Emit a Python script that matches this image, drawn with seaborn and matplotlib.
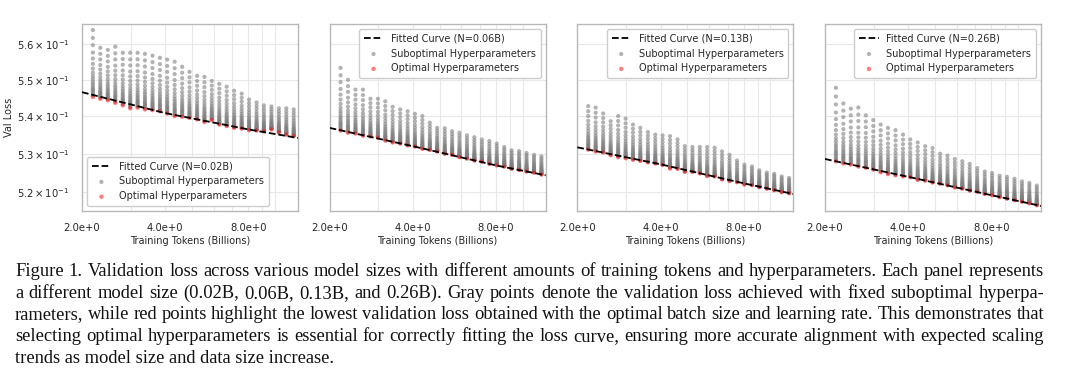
import matplotlib
matplotlib.use("Agg")
import matplotlib.pyplot as plt
import pandas as pd
import seaborn as sns
from matplotlib.ticker import FixedLocator, NullLocator, NullFormatter

# training tokens (billions) of each column of runs
tokens = [2.19, 2.33, 2.48, 2.64, 2.81, 2.99, 3.18, 3.38, 3.60, 3.83,
          4.07, 4.33, 4.61, 4.90, 5.22, 5.55, 5.90, 6.28, 6.68, 7.11,
          7.57, 8.05, 8.57, 9.11, 9.70, 10.32, 10.98, 11.68]

model_sizes = ["0.02B", "0.06B", "0.13B", "0.26B"]

# fitted curves, read at a few token counts
fit_tokens = [2.0, 4.0, 8.0, 12.1]
fit_002 = [0.5466, 0.5409, 0.5365, 0.5342]
fit_006 = [0.5369, 0.5320, 0.5269, 0.5243]
fit_013 = [0.5317, 0.5272, 0.5222, 0.5194]
fit_026 = [0.5286, 0.5239, 0.5191, 0.5163]

# lowest loss per column (optimal batch size / lr)
opt_002 = [0.5453, 0.5448, 0.5444, 0.5437, 0.5430, 0.5422, 0.5424, 0.5419, 0.5417, 0.5414,
           0.5408, 0.5401, 0.5399, 0.5396, 0.5392, 0.5385, 0.5390, 0.5378, 0.5374, 0.5369,
           0.5367, 0.5363, 0.5362, 0.5360, 0.5365, 0.5357, 0.5351, 0.5347]
opt_006 = [0.5362, 0.5356, 0.5354, 0.5348, 0.5346, 0.5343, 0.5335, 0.5330, 0.5327, 0.5322,
           0.5319, 0.5313, 0.5310, 0.5306, 0.5300, 0.5297, 0.5291, 0.5287, 0.5282, 0.5279,
           0.5273, 0.5269, 0.5266, 0.5260, 0.5257, 0.5253, 0.5250, 0.5245]
opt_013 = [0.5311, 0.5306, 0.5303, 0.5296, 0.5291, 0.5288, 0.5284, 0.5281, 0.5277, 0.5274,
           0.5270, 0.5261, 0.5260, 0.5252, 0.5252, 0.5248, 0.5241, 0.5240, 0.5232, 0.5228,
           0.5225, 0.5219, 0.5217, 0.5212, 0.5208, 0.5204, 0.5199, 0.5196]
opt_026 = [0.5280, 0.5274, 0.5271, 0.5266, 0.5263, 0.5258, 0.5251, 0.5246, 0.5243, 0.5240,
           0.5238, 0.5231, 0.5229, 0.5224, 0.5221, 0.5217, 0.5211, 0.5208, 0.5203, 0.5200,
           0.5194, 0.5191, 0.5186, 0.5182, 0.5178, 0.5174, 0.5170, 0.5165]

# highest loss per column (worst suboptimal setting)
top_002 = [0.5639, 0.5589, 0.5583, 0.5592, 0.5575, 0.5575, 0.5575, 0.5572, 0.5567, 0.5561,
           0.5556, 0.5550, 0.5536, 0.5522, 0.5511, 0.5508, 0.5497, 0.5489, 0.5481, 0.5470,
           0.5462, 0.5446, 0.5438, 0.5430, 0.5427, 0.5422, 0.5422, 0.5419]
top_006 = [0.5533, 0.5500, 0.5473, 0.5473, 0.5448, 0.5448, 0.5441, 0.5426, 0.5419, 0.5414,
           0.5407, 0.5401, 0.5383, 0.5369, 0.5368, 0.5360, 0.5356, 0.5349, 0.5344, 0.5338,
           0.5334, 0.5327, 0.5318, 0.5309, 0.5307, 0.5302, 0.5297, 0.5293]
top_013 = [0.5428, 0.5424, 0.5408, 0.5387, 0.5401, 0.5394, 0.5378, 0.5369, 0.5358, 0.5351,
           0.5349, 0.5347, 0.5338, 0.5320, 0.5318, 0.5318, 0.5318, 0.5316, 0.5306, 0.5297,
           0.5282, 0.5271, 0.5266, 0.5256, 0.5250, 0.5247, 0.5240, 0.5236]
top_026 = [0.5478, 0.5435, 0.5421, 0.5424, 0.5403, 0.5390, 0.5378, 0.5369, 0.5363, 0.5351,
           0.5338, 0.5330, 0.5320, 0.5315, 0.5300, 0.5295, 0.5286, 0.5280, 0.5273, 0.5262,
           0.5253, 0.5249, 0.5242, 0.5239, 0.5234, 0.5227, 0.5223, 0.5216]

# where the suboptimal settings sit between the optimum and the worst run
hparam_spread = [0.02, 0.04, 0.06, 0.08, 0.10, 0.12, 0.14, 0.17, 0.20, 0.23,
                 0.27, 0.31, 0.36, 0.42, 0.49, 0.57, 0.66, 0.77, 0.88, 1.0]

xtick_values = [2.0, 4.0, 8.0]
xtick_labels = ["2.0e+0", "4.0e+0", "8.0e+0"]
xminor_values = [3, 5, 6, 7, 9, 10]
ytick_values = [0.52, 0.53, 0.54, 0.55, 0.56]
ytick_labels = [r"$5.2\times10^{-1}$", r"$5.3\times10^{-1}$", r"$5.4\times10^{-1}$",
                r"$5.5\times10^{-1}$", r"$5.6\times10^{-1}$"]

caption_lines = [
    "Figure 1. Validation loss across various model sizes with different amounts of training tokens and hyperparameters. Each panel represents",
    "a different model size (0.02B, 0.06B, 0.13B, and 0.26B). Gray points denote the validation loss achieved with fixed suboptimal hyperpa-",
    "rameters, while red points highlight the lowest validation loss obtained with the optimal batch size and learning rate. This demonstrates that",
    "selecting optimal hyperparameters is essential for correctly fitting the loss curve, ensuring more accurate alignment with expected scaling",
    "trends as model size and data size increase.",
]

sns.set_theme(style="whitegrid", rc={
    "axes.edgecolor": "0.72",
    "grid.color": "0.91",
    "grid.linewidth": 0.8,
    "axes.linewidth": 1.0,
})
plt.rcParams["font.family"] = ["DejaVu Sans"]
plt.rcParams["mathtext.fontset"] = "dejavusans"

fig, axes = plt.subplots(1, 4, figsize=(10.8, 3.78), dpi=100, sharey=True, sharex=True)
fig.subplots_adjust(left=0.0759, right=0.9639, top=0.9365, bottom=0.4418, wspace=0.1467)

panels = [
    ("0.02B", fit_002, opt_002, top_002, "lower left"),
    ("0.06B", fit_006, opt_006, top_006, "upper right"),
    ("0.13B", fit_013, opt_013, top_013, "upper right"),
    ("0.26B", fit_026, opt_026, top_026, "upper right"),
]

for ax, (size, fit, opt, top, legend_loc) in zip(axes, panels):
    rows = []
    for t, lo, hi in zip(tokens, opt, top):
        for f in hparam_spread:
            rows.append({"tokens": t, "loss": lo + f * (hi - lo)})
    sub = pd.DataFrame(rows)
    best = pd.DataFrame({"tokens": tokens, "loss": opt})
    curve = pd.DataFrame({"tokens": fit_tokens, "loss": fit})

    sns.scatterplot(data=sub, x="tokens", y="loss", color="gray", alpha=0.6, s=9,
                    edgecolor="none", label="Suboptimal Hyperparameters", ax=ax, zorder=2)
    sns.scatterplot(data=best, x="tokens", y="loss", color="red", alpha=0.5, s=10,
                    edgecolor="none", label="Optimal Hyperparameters", ax=ax, zorder=3)
    sns.lineplot(data=curve, x="tokens", y="loss", color="black", linestyle="--",
                 linewidth=1.3, label=f"Fitted Curve (N={size})", ax=ax, zorder=4)

    ax.set_xscale("log")
    ax.set_yscale("log")
    handles, labels = ax.get_legend_handles_labels()
    order = [labels.index(f"Fitted Curve (N={size})"),
             labels.index("Suboptimal Hyperparameters"),
             labels.index("Optimal Hyperparameters")]
    ax.legend([handles[i] for i in order], [labels[i] for i in order],
              loc=legend_loc, fontsize=7, handlelength=2.0, borderpad=0.5,
              labelspacing=0.5, framealpha=1.0)
    ax.set_xlabel("Training Tokens (Billions)", fontsize=7, labelpad=1.5)
    ax.set_ylabel("")
    ax.grid(True, which="both", axis="x")
    ax.grid(True, which="major", axis="y")

ax0 = axes[0]
ax0.set_xlim(2.0, 12.1)
ax0.set_ylim(0.515, 0.5656)
ax0.xaxis.set_major_locator(FixedLocator(xtick_values))
ax0.set_xticklabels(xtick_labels)
ax0.xaxis.set_minor_locator(FixedLocator(xminor_values))
ax0.xaxis.set_minor_formatter(NullFormatter())
ax0.yaxis.set_major_locator(FixedLocator(ytick_values))
ax0.set_yticklabels(ytick_labels)
ax0.yaxis.set_minor_locator(NullLocator())
ax0.yaxis.set_minor_formatter(NullFormatter())
ax0.set_ylabel("Val Loss", fontsize=7, labelpad=2)
for ax in axes:
    ax.tick_params(axis="both", which="major", labelsize=7.2, pad=3)

# caption, justified like the paper
renderer = fig.canvas.get_renderer()
W, H = fig.bbox.width, fig.bbox.height
x_left, x_right = 15, 1044
baselines = [276, 297.7, 319.4, 341.1, 362.8]
cap_font = dict(fontsize=13.3, family=["Liberation Serif", "DejaVu Serif"], color="#111111")
for i, (line, base) in enumerate(zip(caption_lines, baselines)):
    y = 1 - base / H
    if i == len(caption_lines) - 1:
        fig.text(x_left / W, y, line, va="baseline", ha="left", **cap_font)
        continue
    words = line.split()
    widths = []
    for w in words:
        tmp = fig.text(0, 0, w, **cap_font)
        widths.append(tmp.get_window_extent(renderer).width)
        tmp.remove()
    gap = (x_right - x_left - sum(widths)) / (len(words) - 1)
    x = x_left
    for w, wd in zip(words, widths):
        fig.text(x / W, y, w, va="baseline", ha="left", **cap_font)
        x += wd + gap

fig.savefig("out.png", dpi=100)
